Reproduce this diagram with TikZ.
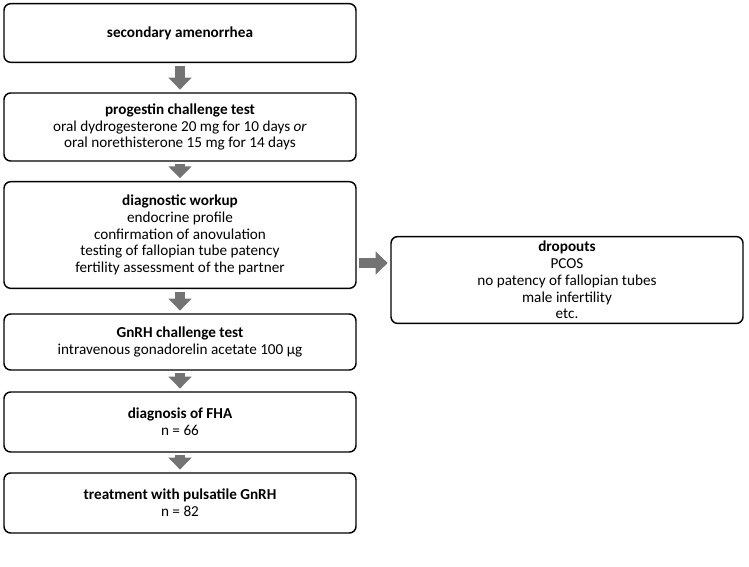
\documentclass[tikz,border=0pt]{standalone}
\usepackage{fontspec}
\setmainfont{Carlito}
\usetikzlibrary{arrows.meta}
\tikzset{
  box/.style={draw, line width=1.1pt, rounded corners=5pt, align=center, font=\fontsize{11.4}{12.6}\selectfont},
  flow/.style={line width=7.5pt, draw=black!55, -{Triangle[width=17pt,length=9pt]}, shorten >=2pt, shorten <=2pt}
}
\begin{document}
\begin{tikzpicture}[x=0.75pt,y=-0.75pt]
    \useasboundingbox (0,0) rectangle (749,567);
    % Boxes
    \node[box, minimum width=264pt, minimum height=44pt] (amen) at (180,33) {\textbf{secondary amenorrhea}};
    \node[box, minimum width=264pt, minimum height=51pt] (prog) at (180,127) {\textbf{progestin challenge test}\\oral dydrogesterone 20 mg for 10 days \textit{or}\\oral norethisterone 15 mg for 14 days};
    \node[box, minimum width=264pt, minimum height=80pt] (work) at (180,235) {\textbf{diagnostic workup}\\endocrine profile\\confirmation of anovulation\\testing of fallopian tube patency\\fertility assessment of the partner};
    \node[box, minimum width=264pt, minimum height=58pt] (drop) at (567,280) {\textbf{dropouts}\\PCOS\\no patency of fallopian tubes\\male infertility\\etc.};
    \node[box, minimum width=264pt, minimum height=42pt] (gnrh) at (180,342) {\textbf{GnRH challenge test}\\intravenous gonadorelin acetate 100 µg};
    \node[box, minimum width=264pt, minimum height=45pt] (fha) at (180,422) {\textbf{diagnosis of FHA}\\n = 66};
    \node[box, minimum width=264pt, minimum height=45pt] (treat) at (180,503) {\textbf{treatment with pulsatile GnRH}\\n = 82};
    % Arrows
    \draw[flow] (amen) -- (prog);
    \draw[flow] (prog) -- (work);
    \draw[flow] (work) -- (gnrh);
    \draw[flow] (gnrh) -- (fha);
    \draw[flow] (fha) -- (treat);
    \draw[flow] (work.east |- 0,263) -- (drop.west |- 0,263);
\end{tikzpicture}
\end{document}
